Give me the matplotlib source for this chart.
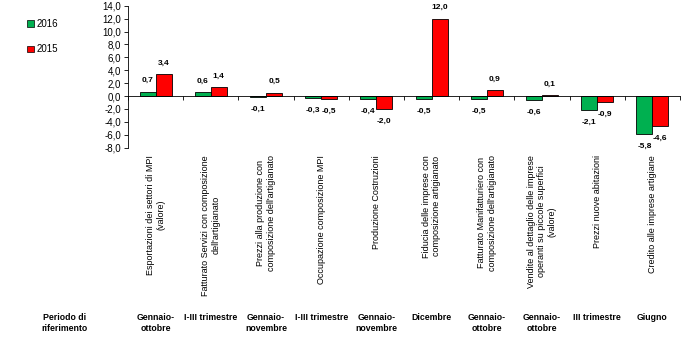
import numpy as np
import matplotlib
matplotlib.use('Agg')
import matplotlib.pyplot as plt
from matplotlib import font_manager
from matplotlib.patches import Patch

# dati
categorie = ["Esportazioni dei settori di MPI\n(valore)",
             "Fatturato Servizi con composizione\ndell'artigianato",
             "Prezzi alla produzione con\ncomposizione dell'artigianato",
             "Occupazione composizione MPI",
             "Produzione Costruzioni",
             "Fiducia delle imprese con\ncomposizione artigianato",
             "Fatturato Manifatturiero con\ncomposizione dell'artigianato",
             "Vendite al dettaglio delle imprese\noperanti su piccole superfici\n(valore)",
             "Prezzi nuove abitazioni",
             "Credito alle imprese artigiane"]
periodi = ["Gennaio-\nottobre", "I-III trimestre", "Gennaio-\nnovembre", "I-III trimestre",
           "Gennaio-\nnovembre", "Dicembre", "Gennaio-\nottobre", "Gennaio-\nottobre",
           "III trimestre", "Giugno"]
val_2016 = [0.7, 0.6, -0.1, -0.3, -0.4, -0.5, -0.5, -0.6, -2.1, -5.8]
val_2015 = [3.4, 1.4, 0.5, -0.5, -2.0, 12.0, 0.9, 0.1, -0.9, -4.6]
yticks = np.arange(-8, 14.1, 2)

nomi = [f.name for f in font_manager.fontManager.ttflist]
if 'Liberation Sans Narrow' in nomi:
    narrow = 'Liberation Sans Narrow'
    fs_cat, fs_val, fs_per = 8, 6.8, 7.2
else:
    narrow = 'Liberation Sans'
    fs_cat, fs_val, fs_per = 6.5, 6, 6.3
plt.rcParams['font.family'] = 'Liberation Sans'

verde = '#00B050'
rosso = '#FF0000'

fig = plt.figure(figsize=(7, 3.46), dpi=100)
ax = fig.add_axes([128/700, 1-147.7/346, 552/700, 142/346])

x = np.arange(len(categorie))
w = 0.29
ax.bar(x - w/2, val_2016, w, color=verde, edgecolor='black', linewidth=0.6)
ax.bar(x + w/2, val_2015, w, color=rosso, edgecolor='black', linewidth=0.6)

for serie, dx in ((val_2016, -w/2), (val_2015, w/2)):
    for xi, v in zip(x, serie):
        lab = f"{v:.1f}".replace('.', ',')
        off = 8 if v >= 0 else -9
        ax.annotate(lab, (xi + dx, v), xytext=(0, off), textcoords='offset points',
                    ha='center', va='center', fontsize=fs_val, fontweight='bold',
                    family=narrow)

ax.set_xlim(-0.5, len(categorie) - 0.5)
ax.set_ylim(-8, 14)
ax.set_yticks(yticks)
ax.set_yticklabels([f"{t:.1f}".replace('.', ',') for t in yticks], fontsize=7)
ax.tick_params(axis='y', direction='out', length=3, width=0.6, pad=2)
ax.set_xticks(np.arange(-0.5, len(categorie), 1))
ax.set_xticklabels([])
ax.tick_params(axis='x', direction='out', length=3, width=0.6)
ax.spines['bottom'].set_position(('data', 0))
ax.spines['top'].set_visible(False)
ax.spines['right'].set_visible(False)
ax.spines['left'].set_linewidth(0.6)
ax.spines['bottom'].set_linewidth(0.6)

trans = matplotlib.transforms.blended_transform_factory(ax.transData, fig.transFigure)
for xi, c, p in zip(x, categorie, periodi):
    ax.text(xi, 1 - 155/346, c, transform=trans, rotation=90, ha='center', va='top',
            multialignment='center', fontsize=fs_cat, family=narrow, linespacing=1.2)
    ax.text(xi, 1 - 313/346, p, transform=trans, ha='center', va='top',
            fontsize=fs_per, fontweight='bold', family=narrow, linespacing=1.3)
fig.text(65/700, 1 - 313/346, "Periodo di\nriferimento", ha='center', va='top',
         fontsize=fs_per, fontweight='bold', family=narrow, linespacing=1.3)

handles = [Patch(facecolor=verde, edgecolor='black', linewidth=0.5),
           Patch(facecolor=rosso, edgecolor='black', linewidth=0.5)]
fig.legend(handles, ['2016', '2015'], loc='upper left', bbox_to_anchor=(22/700, 1 - 14/346),
           frameon=False, fontsize=7, handlelength=0.7, handleheight=0.7,
           handletextpad=0.3, labelspacing=1.6, borderpad=0)

fig.savefig('out.png', dpi=100)
